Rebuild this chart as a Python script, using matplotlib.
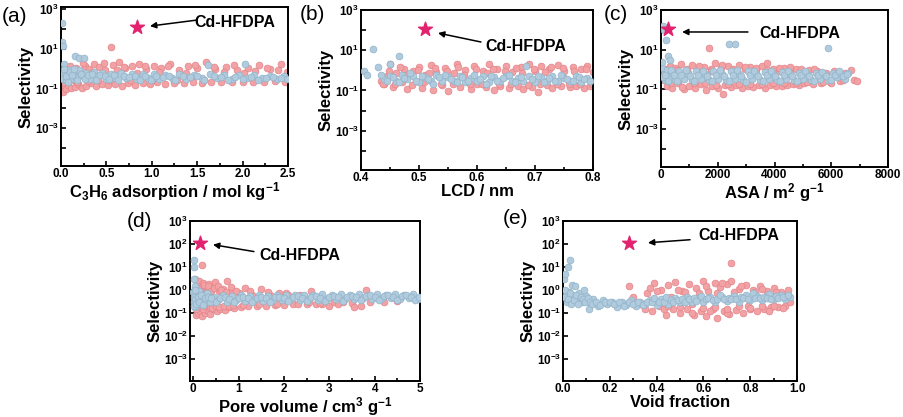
import numpy as np
import matplotlib
matplotlib.use('Agg')
import matplotlib.pyplot as plt
from matplotlib.ticker import FixedLocator, FuncFormatter, MultipleLocator

plt.rcParams['font.family'] = ['Liberation Sans', 'DejaVu Sans']
plt.rcParams['font.weight'] = 'bold'
plt.rcParams['mathtext.fontset'] = 'custom'
plt.rcParams['mathtext.rm'] = 'Liberation Sans:bold'
plt.rcParams['mathtext.bf'] = 'Liberation Sans:bold'
plt.rcParams['mathtext.default'] = 'bf'

# ---- data (selectivity vs. descriptor) ----
star_label = 'Cd-HFDPA'
star_y = 115

# (a) C3H6 adsorption
a_pink_x = [0.02,0.03,0.04,0.05,0.06,0.08,0.09,0.11,0.13,0.15,0.17,0.19,0.21,0.23,0.26,0.28,0.31,0.33,0.36,0.39,
            0.42,0.45,0.48,0.52,0.55,0.57,0.6,0.64,0.67,0.7,0.74,0.78,0.82,0.86,0.9,0.94,0.98,1.02,1.06,1.1,
            1.15,1.2,1.25,1.3,1.35,1.4,1.45,1.5,1.55,1.6,1.65,1.7,1.76,1.82,1.88,1.94,2.0,2.06,2.12,2.18,
            2.24,2.3,2.36,2.42,2.47,2.49,
            0.03,0.07,0.1,0.14,0.18,0.24,0.3,0.35,0.41,0.47,0.53,0.62,0.69,0.76,0.84,0.92,1.0,1.08,1.18,1.28,
            1.38,1.48,1.58,1.68,1.79,1.9,2.02,2.14,2.27,2.39]
a_pink_y = [0.07,0.6,0.12,0.9,0.09,0.15,0.5,0.1,0.3,0.12,1.1,0.16,0.7,0.11,1.4,0.14,0.9,0.18,1.6,0.13,
            1.2,0.17,0.8,0.15,12,1.5,0.16,2.0,0.14,1.0,0.19,1.3,0.15,1.7,0.18,0.9,0.16,1.4,0.2,1.1,
            0.17,1.6,0.19,0.8,0.18,1.3,0.2,1.0,0.19,2.1,0.2,0.9,0.21,1.2,0.2,0.8,0.22,1.1,0.21,1.5,
            0.22,0.9,0.23,1.6,0.22,0.7,
            0.2,0.35,1.4,0.25,0.22,1.8,0.24,0.7,0.26,1.9,0.25,0.8,1.2,0.27,0.6,1.4,0.28,0.7,1.3,0.27,
            0.6,1.5,0.28,1.2,0.7,1.5,0.6,0.75,1.1,0.8]
a_blue_x = [0.01,0.015,0.02,0.03,0.01,0.02,0.04,0.05,0.07,0.09,0.11,0.15,0.2,0.25,0.13,0.16,0.2,0.24,0.28,0.32,
            0.36,0.4,0.45,0.5,0.55,0.6,0.66,0.72,0.78,0.84,0.9,0.96,1.02,1.08,1.15,1.22,1.3,1.38,1.46,1.55,
            1.62,1.64,1.72,1.8,1.88,1.96,2.03,2.05,2.13,2.21,2.3,2.38,2.46,2.49,
            0.03,0.06,0.08,0.1,0.12,0.14,0.18,0.22,0.26,0.3,0.34,0.38,0.43,0.48,0.53,0.58,0.63,0.69,0.75,0.81,
            0.87,0.93,0.99,1.05,1.12,1.19,1.26,1.34,1.42,1.5,1.58,1.68,1.76,1.84,1.92,2.0,2.09,2.17,2.26,2.34,2.42]
a_blue_y = [200,20,14,1.6,0.5,0.3,0.7,0.25,0.5,0.8,0.3,4.2,3.3,3.5,0.6,0.35,0.8,0.4,0.6,0.3,
            0.7,0.4,0.6,0.3,0.55,0.35,0.6,0.32,0.5,0.3,0.55,0.35,0.5,0.3,0.45,0.32,0.5,0.3,0.45,0.33,
            1.5,0.5,0.32,0.45,0.3,0.45,1.6,0.33,0.45,0.32,0.42,0.3,0.4,0.3,
            0.9,0.4,0.22,0.65,0.45,0.9,0.25,0.55,0.3,0.45,0.5,0.28,0.45,0.4,0.3,0.45,0.28,0.42,0.38,0.42,
            0.28,0.4,0.28,0.42,0.36,0.42,0.28,0.4,0.36,0.4,0.27,0.4,0.38,0.27,0.38,0.3,0.38,0.28,0.35,0.36,0.33]

# (b) LCD
b_pink_x = [0.435,0.44,0.445,0.45,0.455,0.46,0.47,0.475,0.48,0.49,0.495,0.5,0.505,0.51,0.52,0.525,0.53,0.54,0.545,0.55,
            0.56,0.565,0.57,0.58,0.59,0.595,0.6,0.61,0.615,0.62,0.63,0.635,0.64,0.65,0.655,0.66,0.67,0.675,0.68,0.69,
            0.695,0.7,0.705,0.71,0.72,0.725,0.73,0.74,0.745,0.75,0.76,0.765,0.77,0.78,0.785,0.79,0.795,0.8,
            0.438,0.448,0.458,0.468,0.478,0.488,0.498,0.508,0.518,0.528,0.538,0.548,0.558,0.568,0.578,0.588,0.598,0.608,0.618,
            0.628,0.638,0.648,0.658,0.668,0.678,0.688,0.698,0.708,0.718,0.728,0.738,0.748,0.758,0.768,0.778,0.788,0.798]
b_pink_y = [0.3,0.2,0.5,2.0,0.15,0.7,0.25,1.2,0.12,0.9,0.3,1.5,0.13,0.6,1.8,0.1,0.8,0.18,1.3,0.09,
            0.7,2.1,0.15,1.0,0.12,1.6,0.2,0.9,0.14,2.0,0.11,1.1,0.17,1.7,0.13,0.8,0.16,1.4,0.12,2.1,
            0.15,0.9,0.08,1.6,0.18,1.2,0.13,1.9,0.16,0.9,0.14,1.5,0.17,1.1,0.13,1.7,0.16,0.8,
            0.22,0.9,0.2,1.5,0.6,0.18,1.0,0.25,0.7,1.3,0.2,0.9,0.22,1.4,0.6,0.2,1.1,0.22,0.75,
            1.2,0.2,0.95,0.21,1.3,0.7,0.19,1.2,0.22,0.8,1.5,0.2,1.3,0.22,0.9,0.2,1.1,0.22]
b_blue_x = [0.405,0.41,0.42,0.43,0.45,0.465,0.44,0.45,0.46,0.47,0.48,0.49,0.5,0.51,0.52,0.53,0.54,0.55,0.56,0.57,
            0.58,0.59,0.6,0.61,0.62,0.63,0.64,0.65,0.66,0.67,0.68,0.685,0.69,0.7,0.71,0.72,0.73,0.74,0.75,0.76,
            0.77,0.78,0.79,0.795,
            0.435,0.445,0.455,0.465,0.475,0.485,0.495,0.505,0.515,0.525,0.535,0.545,0.555,0.565,0.575,0.585,0.595,0.605,
            0.615,0.625,0.635,0.645,0.655,0.665,0.675,0.695,0.705,0.715,0.725,0.735,0.745,0.755,0.765,0.775,0.785]
b_blue_y = [0.9,0.6,12,1.4,2.0,5,0.35,0.5,0.3,0.6,0.35,0.5,0.25,0.45,0.3,0.6,0.28,0.45,0.3,0.55,
            0.25,0.4,0.3,0.5,0.27,0.45,0.3,0.55,0.28,0.4,0.3,1.6,0.5,0.26,0.45,0.3,0.5,0.28,0.42,0.3,
            0.5,0.27,0.4,0.3,
            0.6,0.3,0.45,0.25,0.4,0.7,0.3,0.5,0.35,0.22,0.45,0.6,0.35,0.25,0.45,0.3,0.6,0.35,
            0.22,0.5,0.3,0.4,0.6,0.25,0.45,0.35,0.55,0.25,0.4,0.3,0.6,0.35,0.28,0.45,0.35]

# (c) ASA
c_pink_x = [100,200,300,400,500,600,700,800,900,1000,1100,1200,1300,1400,1500,1600,1700,1750,1800,1900,
            2000,2100,2200,2250,2350,2450,2550,2650,2750,2850,2950,3050,3150,3250,3350,3450,3550,3650,3750,3850,
            3950,4050,4150,4250,4350,4450,4550,4650,4750,4850,4950,5050,5200,5350,5500,5650,5800,5950,6100,6300,
            6500,6700,6800,6900,
            150,350,550,750,950,1150,1350,1550,1750,1950,2150,2350,2550,2750,2950,3150,3350,3550,3750,3950,
            4150,4350,4550,4750,4950,5150,5400,5700,6000,6400]
c_pink_y = [0.3,0.15,1.5,0.12,1.2,0.2,1.8,0.1,1.0,0.15,1.6,0.11,0.9,0.18,1.4,0.09,12,1.1,0.14,2.0,
            0.12,1.2,0.06,0.17,1.5,0.13,1.1,0.16,1.7,0.12,1.0,0.15,1.3,0.13,0.9,0.16,1.5,0.12,2.0,0.17,
            1.1,0.14,0.8,0.15,1.2,0.16,0.9,0.18,1.1,0.17,0.8,0.2,0.9,0.19,0.8,0.2,0.7,0.22,0.8,0.25,
            0.7,0.9,0.28,0.25,
            1.0,0.2,0.9,0.13,0.7,0.2,1.5,0.2,0.8,0.16,1.6,0.19,0.8,0.18,1.4,0.19,1.2,0.18,0.9,0.2,
            1.2,0.2,1.3,0.21,1.0,0.22,1.1,0.22,0.2,0.3]
c_blue_x = [80,120,180,250,300,50,100,150,200,300,400,500,650,800,950,1100,1250,1400,1550,1700,
            1850,2000,2150,2300,2400,2600,2450,2600,2750,2900,3050,3200,3350,3500,3650,3800,3950,4100,4250,4400,
            4550,4700,4850,5000,5150,5300,5450,5600,5750,5900,5900,6050,6200,6350,6500,6600,
            30,60,130,230,350,450,580,720,870,1020,1180,1320,1480,1630,1780,1930,2080,2230,2380,2530,
            2680,2830,2980,3130,3280,3430,3580,3730,3880,4030,4180,4330,4480,4630,4780,4930,5080,5230,5380,5530,
            5680,5830,5980,6130,6280,6430,6550]
c_blue_y = [150,100,30,5,3,1.2,0.6,0.3,0.9,0.4,0.7,0.3,0.8,0.35,0.6,0.3,0.8,0.35,0.6,0.3,
            0.8,0.35,0.6,0.3,20,20,0.8,0.35,0.6,0.3,0.8,0.35,0.6,0.3,0.75,0.35,0.6,0.3,0.75,0.35,
            0.6,0.3,0.7,0.35,0.6,0.3,0.7,0.35,0.6,12,0.3,0.7,0.4,0.6,0.35,0.7,
            2.5,0.4,0.5,0.25,0.9,0.5,0.25,0.55,0.9,0.45,0.25,0.55,0.85,0.45,0.25,0.55,0.9,0.45,0.25,0.5,
            0.9,0.45,0.22,0.55,0.85,0.45,0.25,0.5,0.8,0.45,0.25,0.5,0.85,0.45,0.25,0.5,0.8,0.45,0.25,0.5,
            0.75,0.45,0.28,0.5,0.8,0.45,0.6]

# (d) pore volume
d_pink_x = [0.02,0.05,0.06,0.08,0.1,0.12,0.14,0.17,0.2,0.19,0.22,0.25,0.28,0.31,0.34,0.37,0.4,0.44,0.48,0.52,
            0.56,0.6,0.65,0.7,0.75,0.8,0.85,0.9,1.0,1.05,1.15,1.2,1.3,1.4,1.5,1.6,1.7,1.8,1.9,2.0,
            2.1,2.2,2.35,2.5,2.6,2.7,2.85,3.0,3.1,3.3,3.5,3.55,3.7,3.8,3.9,4.2,4.5,
            0.03,0.07,0.09,0.11,0.13,0.16,0.18,0.21,0.24,0.27,0.3,0.33,0.36,0.39,0.42,0.46,0.5,0.54,0.58,0.62,
            0.68,0.72,0.78,0.83,0.88,0.95,1.1,1.25,1.45,1.65,1.85,2.05,2.3,2.55,2.8,3.2]
d_pink_y = [0.5,3.0,0.08,1.8,0.1,2.5,0.12,1.5,12,0.07,2.0,0.1,1.2,0.13,1.8,0.09,1.0,0.14,2.2,0.12,
            0.9,0.15,1.1,0.13,2.5,0.17,0.8,0.16,0.7,0.18,1.2,0.2,0.6,0.19,1.1,0.2,0.6,0.22,0.7,0.21,
            0.6,0.24,0.6,0.23,0.9,0.25,0.25,0.2,0.28,0.3,0.26,0.18,0.2,1.0,0.3,0.3,0.32,
            1.2,0.15,0.6,1.2,0.2,0.9,0.25,0.15,1.6,0.2,0.8,1.4,0.18,0.9,0.16,1.2,0.2,1.5,0.17,1.0,
            0.2,0.8,0.2,1.3,0.22,0.9,0.22,0.9,0.25,0.8,0.24,0.75,0.25,0.28,0.27,0.25]
d_blue_x = [0.01,0.02,0.01,0.03,0.02,0.04,0.06,0.09,0.12,0.15,0.2,0.25,0.3,0.38,0.45,0.55,0.65,0.75,0.85,0.95,
            1.05,1.15,1.25,1.35,1.45,1.55,1.65,1.75,1.85,1.95,2.05,2.15,2.25,2.35,2.45,2.55,2.65,2.75,2.85,2.95,
            3.05,3.15,3.25,3.35,3.45,3.55,3.65,3.75,3.85,3.95,4.05,4.15,4.25,4.35,4.45,4.55,4.65,4.75,4.85,4.95,
            0.005,0.015,0.025,0.035,0.05,0.07,0.1,0.13,0.17,0.22,0.27,0.33,0.4,0.5,0.6,0.7,0.8,0.9,1.0,1.1,
            1.2,1.3,1.4,1.5,1.6,1.7,1.8,1.9,2.0,2.1,2.2,2.3,2.4,2.5,2.6,2.7,2.8,2.9,3.0,3.1,
            3.2,3.3,3.4,3.5,3.6,3.7,3.8,3.9,4.0,4.1,4.2,4.3,4.4,4.5,4.6,4.7,4.8,4.9,4.98]
d_blue_y = [20,10,3,1.5,0.3,0.18,0.6,0.35,0.9,0.25,0.5,0.3,0.7,0.3,0.5,0.35,0.6,0.3,0.55,0.35,
            0.6,0.32,0.55,0.35,0.6,0.33,0.55,0.37,0.6,0.35,0.6,0.38,0.6,0.36,0.62,0.38,0.58,0.37,0.63,0.4,
            0.6,0.38,0.65,0.4,0.6,0.38,0.65,0.42,0.6,0.4,0.65,0.4,0.62,0.42,0.68,0.4,0.62,0.42,0.65,0.4,
            0.8,0.5,0.2,0.4,1.0,0.25,0.5,0.3,0.6,0.22,0.45,0.5,0.45,0.28,0.45,0.5,0.4,0.3,0.45,0.5,
            0.42,0.3,0.45,0.5,0.42,0.3,0.48,0.5,0.45,0.32,0.48,0.52,0.45,0.32,0.5,0.55,0.45,0.33,0.5,0.55,
            0.48,0.33,0.5,0.55,0.48,0.35,0.52,0.58,0.5,0.35,0.52,0.58,0.5,0.36,0.55,0.6,0.5,0.36,0.5]

# (e) void fraction
e_pink_x = [0.28,0.3,0.33,0.36,0.38,0.39,0.41,0.42,0.44,0.45,0.47,0.48,0.5,0.51,0.53,0.54,0.56,0.57,0.59,0.6,
            0.61,0.62,0.64,0.65,0.66,0.67,0.69,0.7,0.71,0.72,0.72,0.74,0.75,0.77,0.78,0.8,0.81,0.83,0.84,0.86,
            0.87,0.89,0.9,0.92,0.93,0.95,0.96,0.97,
            0.35,0.37,0.4,0.43,0.46,0.49,0.52,0.55,0.58,0.61,0.63,0.66,0.68,0.7,0.73,0.76,0.79,0.82,0.85,0.88,
            0.91,0.94,0.96,0.5,0.6,0.7,0.8,0.9,0.45,0.55,0.65,0.75,0.85]
e_pink_y = [1.5,0.5,0.25,0.7,0.12,2.0,0.2,1.0,0.08,1.6,0.15,2.2,0.1,0.9,0.14,1.8,0.08,1.2,0.12,2.5,
            0.07,0.9,0.15,2.0,0.06,1.3,0.12,1.8,0.09,15,2.5,0.13,1.1,0.1,1.6,0.14,1.0,0.12,1.4,0.15,
            0.9,0.17,1.2,0.18,0.8,0.2,0.6,0.3,
            0.15,1.2,0.9,0.14,0.5,1.0,0.8,0.1,0.7,1.4,0.12,0.7,2.0,0.1,0.8,1.5,0.2,0.8,1.1,0.12,
            0.8,0.16,1.0,0.18,0.16,0.14,0.16,0.2,0.2,0.25,0.18,0.2,0.2]
e_blue_x = [0.005,0.01,0.02,0.03,0.04,0.005,0.015,0.025,0.04,0.05,0.06,0.07,0.08,0.1,0.12,0.13,0.15,0.17,0.19,0.21,
            0.23,0.25,0.27,0.29,0.31,0.33,0.35,0.37,0.4,0.42,0.45,0.48,0.5,0.53,0.55,0.58,0.6,0.63,0.65,0.68,
            0.7,0.73,0.75,0.78,0.8,0.83,0.85,0.88,0.9,0.93,0.95,0.97,0.11,0.09,
            0.01,0.02,0.03,0.035,0.045,0.055,0.065,0.075,0.085,0.095,0.105,0.115,0.125,0.14,0.16,0.18,0.2,0.22,0.24,0.26,
            0.28,0.3,0.32,0.34,0.36,0.38,0.39,0.41,0.43,0.44,0.46,0.47,0.49,0.51,0.52,0.54,0.56,0.57,0.59,0.61,
            0.62,0.64,0.66,0.67,0.69,0.71,0.72,0.74,0.76,0.77,0.79,0.81,0.82,0.84,0.86,0.87,0.89,0.91,0.92,0.94,0.96]
e_blue_y = [3,5,10,20,1.6,0.5,0.3,0.8,0.6,1.5,0.4,0.7,0.3,0.55,0.25,0.4,0.2,0.35,0.25,0.3,
            0.18,0.3,0.22,0.35,0.2,0.3,0.24,0.35,0.22,0.4,0.25,0.45,0.28,0.5,0.3,0.45,0.28,0.5,0.3,0.5,
            0.32,0.55,0.3,0.6,0.35,0.55,0.35,0.65,0.38,0.6,0.4,0.5,0.15,1.0,
            1.0,0.4,0.7,0.25,0.35,0.6,0.25,0.5,0.4,0.3,0.45,0.3,0.25,0.3,0.22,0.28,0.3,0.24,0.28,0.2,
            0.3,0.25,0.28,0.22,0.3,0.28,0.45,0.3,0.28,0.5,0.35,0.3,0.35,0.4,0.3,0.38,0.45,0.33,0.55,0.38,
            0.45,0.35,0.4,0.6,0.38,0.45,0.4,0.38,0.5,0.45,0.38,0.7,0.45,0.42,0.5,0.45,0.4,0.55,0.45,0.5,0.6]

PINK = '#F2A2A4'
PINK_EDGE = '#E3848A'
BLUE = '#B0CBDD'
BLUE_EDGE = '#92B3C9'
STAR = '#E2226E'


def panel(rect, pink_x, pink_y, blue_x, blue_y, star_x, xlim, xmajor, xminor, xfmt,
          ylim, exps, every_decade, xlabel, text_pos, arrow_tail, arrow_head, letter, letter_pos):
	ax = fig.add_axes(rect)
	ax.scatter(pink_x, pink_y, s=24, c=PINK, edgecolors=PINK_EDGE, linewidths=0.5, zorder=2)
	ax.scatter(blue_x, blue_y, s=24, c=BLUE, edgecolors=BLUE_EDGE, linewidths=0.5, zorder=3)
	ax.scatter([star_x], [star_y], marker='*', s=110, c=STAR, edgecolors=STAR, zorder=4)
	ax.set_yscale('log')
	ax.set_xlim(xlim)
	ax.set_ylim(ylim)
	ax.xaxis.set_major_locator(MultipleLocator(xmajor))
	ax.xaxis.set_minor_locator(MultipleLocator(xminor))
	ax.xaxis.set_major_formatter(FuncFormatter(lambda v, p: xfmt.format(v)))
	ax.yaxis.set_major_locator(FixedLocator([10.0 ** e for e in exps]))
	ax.yaxis.set_minor_locator(FixedLocator([]))

	def yfmt(v, p):
		e = int(round(np.log10(v)))
		if not every_decade and e % 2 == 0:
			return ''
		return '$10^{%d}$' % e
	ax.yaxis.set_major_formatter(FuncFormatter(yfmt))
	ax.tick_params(which='both', direction='in', labelsize=8.5, width=1.2, pad=1.5)
	ax.tick_params(which='major', length=3.5)
	ax.tick_params(which='minor', length=2)
	for s in ax.spines.values():
		s.set_linewidth(1.4)
	ax.set_xlabel(xlabel, fontsize=12, fontweight='bold', labelpad=0)
	ax.set_ylabel('Selectivity', fontsize=12, fontweight='bold', labelpad=1)
	ax.text(text_pos[0], text_pos[1], star_label, transform=ax.transAxes, ha='left', va='center',
	        fontsize=11.5, fontweight='bold')
	ax.annotate('', xy=arrow_head, xytext=arrow_tail, xycoords='axes fraction', textcoords='axes fraction',
	            arrowprops=dict(arrowstyle='-|>', color='black', lw=1.1, mutation_scale=9, shrinkA=0, shrinkB=0))
	fig.text(letter_pos[0] / W, 1 - letter_pos[1] / H, letter, fontsize=15, fontweight='normal',
	         ha='left', va='center')
	return ax


W, H = 904, 417
fig = plt.figure(figsize=(W / 100, H / 100), dpi=100)


def rect(l, r, t, b):
	return [l / W, 1 - b / H, (r - l) / W, (b - t) / H]


panel(rect(61, 288, 7, 166), a_pink_x, a_pink_y, a_blue_x, a_blue_y, 0.84, (0, 2.5), 0.5, 0.25, '{:.1f}',
      (1.3e-5, 1.2e3), range(-4, 4), False, 'C$_3$H$_6$ adsorption / mol kg$^{-1}$',
      (0.586, 0.90), (0.60, 0.918), (0.392, 0.88), '(a)', (2, 16))
panel(rect(361, 593, 10, 170), b_pink_x, b_pink_y, b_blue_x, b_blue_y, 0.51, (0.4, 0.8), 0.1, 0.05, '{:.1f}',
      (1.1e-5, 1e3), range(-4, 4), False, 'LCD / nm',
      (0.534, 0.77), (0.517, 0.80), (0.332, 0.856), '(b)', (300, 15))
panel(rect(661, 888, 10, 167), c_pink_x, c_pink_y, c_blue_x, c_blue_y, 250, (0, 8000), 2000, 1000, '{:.0f}',
      (1.2e-5, 1e3), range(-4, 4), False, 'ASA / m$^2$ g$^{-1}$',
      (0.432, 0.853), (0.383, 0.86), (0.093, 0.86), '(c)', (604, 15))
panel(rect(190, 420, 221, 381), d_pink_x, d_pink_y, d_blue_x, d_blue_y, 0.15, (-0.07, 5), 1, 0.5, '{:.0f}',
      (1.05e-4, 1e3), range(-3, 4), True, 'Pore volume / cm$^3$ g$^{-1}$',
      (0.30, 0.784), (0.278, 0.809), (0.10, 0.852), '(d)', (127, 221))
panel(rect(563, 797, 221, 381), e_pink_x, e_pink_y, e_blue_x, e_blue_y, 0.28, (0, 1.0), 0.2, 0.1, '{:.1f}',
      (1.05e-4, 1e3), range(-3, 4), True, 'Void fraction',
      (0.577, 0.907), (0.543, 0.883), (0.363, 0.864), '(e)', (503, 219))

fig.savefig('out.png', dpi=100)
